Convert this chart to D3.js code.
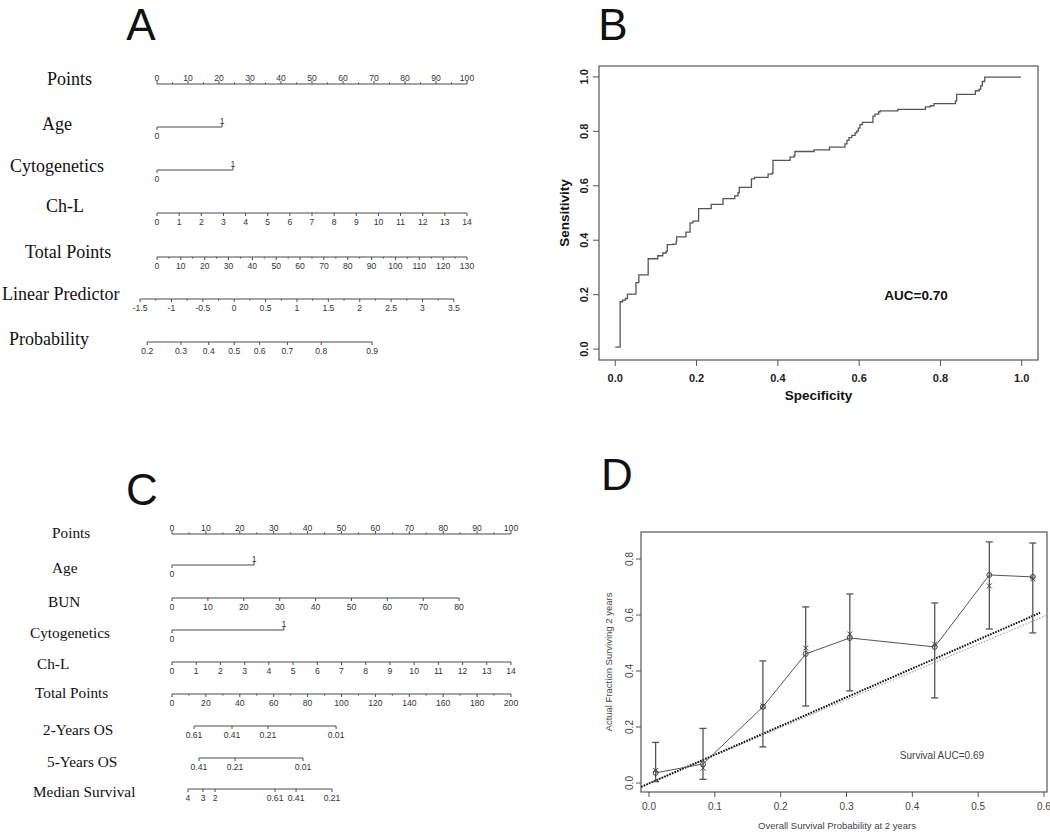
<!DOCTYPE html>
<html><head><meta charset="utf-8">
<script src="https://cdn.jsdelivr.net/npm/d3@7"></script>
<style>body{margin:0;background:#fff}</style>
</head><body>
<script>
// ---------------- DATA ----------------
// Panel A nomogram
const aPointsTicks = [0,10,20,30,40,50,60,70,80,90,100];
const aPointsMinor = [5,15,25,35,45,55,65,75,85,95];
const aAgeVals = [0,1];           const aAgePts = [0,21];
const aCytoVals = [0,1];          const aCytoPts = [0,24.5];
const aChLTicks = [0,1,2,3,4,5,6,7,8,9,10,11,12,13,14];
const aChLPts = [0,100];          // Ch-L 0..14 -> points
const aTotalTicks = [0,10,20,30,40,50,60,70,80,90,100,110,120,130];
const aTotalMinor = [5,15,25,35,45,55,65,75,85,95,105,115,125];
const aLPTicks = [-1.5,-1,-0.5,0,0.5,1,1.5,2,2.5,3,3.5];
const aLPMinor = [-1.25,-0.75,-0.25,0.25,0.75,1.25,1.75,2.25,2.75,3.25];
const aLPTotal = [-7.1,124.5];    // LP -1.5..3.5 on total points
const aProbTicks = [0.2,0.3,0.4,0.5,0.6,0.7,0.8,0.9];

// Panel B ROC
const rocSpec = [0,0.012,0.012,0.018,0.025,0.030,0.047,0.051,0.058,0.058,0.080,0.081,0.100,0.1045,0.113,0.117,0.125,0.128,0.142,0.150,0.151,0.172,0.174,0.183,0.184,0.191,0.205,0.205,0.235,0.236,0.261,0.265,0.290,0.294,0.302,0.305,0.333,0.335,0.343,0.368,0.376,0.386,0.388,0.426,0.430,0.440,0.442,0.487,0.489,0.524,0.527,0.561,0.565,0.570,0.575,0.582,0.590,0.594,0.598,0.602,0.608,0.633,0.634,0.639,0.648,0.652,0.693,0.695,0.760,0.763,0.775,0.784,0.831,0.837,0.840,0.884,0.886,0.895,0.899,0.903,0.909,0.998];
const rocSens = [0.007,0.007,0.174,0.180,0.186,0.202,0.202,0.244,0.244,0.273,0.273,0.332,0.332,0.343,0.343,0.353,0.359,0.384,0.386,0.396,0.412,0.412,0.430,0.430,0.464,0.470,0.470,0.516,0.516,0.532,0.532,0.553,0.553,0.563,0.575,0.594,0.594,0.625,0.631,0.631,0.643,0.647,0.693,0.693,0.705,0.711,0.726,0.726,0.732,0.732,0.742,0.742,0.754,0.767,0.777,0.785,0.794,0.801,0.812,0.825,0.833,0.833,0.856,0.863,0.872,0.875,0.875,0.881,0.881,0.890,0.894,0.902,0.902,0.912,0.936,0.936,0.949,0.954,0.967,0.983,0.999,0.999];
const bTicks = [0,0.2,0.4,0.6,0.8,1.0];

// Panel C nomogram
const cPointsTicks = [0,10,20,30,40,50,60,70,80,90,100];
const cPointsMinor = [5,15,25,35,45,55,65,75,85,95];
const cAgeVals = [0,1];   const cAgePts = [0,24.2];
const cBUNTicks = [0,10,20,30,40,50,60,70,80];  const cBUNPts = [0,84.7];
const cCytoVals = [0,1];  const cCytoPts = [0,33];
const cChLTicks = [0,1,2,3,4,5,6,7,8,9,10,11,12,13,14]; const cChLPts = [0,100];
const cTotalTicks = [0,20,40,60,80,100,120,140,160,180,200];
const cTotalMinor = [10,30,50,70,90,110,130,150,170,190];
const cOS2Labels = ["0.61","0.41","0.21","0.01"]; const cOS2Total = [13,35.4,56.6,96.8];
const cOS5Labels = ["0.41","0.21","0.01"];        const cOS5Total = [15.9,37.2,77.3];
const cMedLabels = ["4","3","2","0.61","0.41","0.21"]; const cMedTotal = [9.4,18.3,25.4,60.8,73.2,94.4];

// Panel D calibration
const dPred = [0.010,0.082,0.173,0.238,0.305,0.434,0.517,0.583];
const dObs  = [0.036,0.068,0.272,0.461,0.518,0.486,0.743,0.736];
const dKM   = [0.045,0.053,0.275,0.482,0.532,0.496,0.704,0.729];
const dLow  = [0.005,0.013,0.129,0.275,0.329,0.304,0.550,0.536];
const dHigh = [0.145,0.195,0.436,0.629,0.675,0.643,0.861,0.857];
const dIdealX = [-0.012,0.594]; const dIdealY = [-0.014,0.608];
const dGrayX  = [-0.012,0.605]; const dGrayY  = [-0.012,0.600];
const dXTicks = [0,0.1,0.2,0.3,0.4,0.5,0.6];
const dYTicks = [0,0.2,0.4,0.6,0.8];

// ---------------- DRAW ----------------
const W=1050,H=832;
const svg=d3.select("body").append("svg").attr("width",W).attr("height",H);
svg.append("rect").attr("width",W).attr("height",H).attr("fill","#fff");
const serif="'Liberation Serif','Times New Roman',serif";
const sans="'Liberation Sans',Arial,sans-serif";
const LC="#4a4a4a";

// panel letters
[["A",141,40],["B",613,40],["C",142,505],["D",617,490]].forEach(([t,x,y])=>{
  svg.append("text").attr("x",x).attr("y",y).attr("text-anchor","middle")
    .attr("font-family",sans).attr("font-size",44).attr("fill","#111").text(t);
});

function fmt(v){return String(v);}
function rowLabel(txt,x,y,size){
  svg.append("text").attr("x",x).attr("y",y).attr("font-family",serif).attr("font-size",size)
    .attr("fill","#111").text(txt);
}
// generic nomogram axis
function nomAxis(y, scale, ticks, opts){
  opts=opts||{};
  const up=opts.up, g=svg.append("g");
  const labels=opts.labels||ticks.map(fmt);
  const xs=ticks.map(scale);
  g.append("line").attr("x1",d3.min(xs)).attr("x2",d3.max(xs)).attr("y1",y).attr("y2",y)
    .attr("stroke",LC).attr("stroke-width",1);
  ticks.forEach((t,i)=>{
    const x=scale(t);
    g.append("line").attr("x1",x).attr("x2",x).attr("y1",y).attr("y2",up?y-3:y+3).attr("stroke",LC);
    g.append("text").attr("x",x).attr("y",up?y-3.5:y+12).attr("text-anchor","middle")
      .attr("font-family",sans).attr("font-size",8.6).attr("fill","#333").text(labels[i]);
  });
  (opts.minor||[]).forEach(t=>{
    const x=scale(t);
    g.append("line").attr("x1",x).attr("x2",x).attr("y1",y).attr("y2",up?y-1.6:y+1.6).attr("stroke",LC);
  });
}
function binAxis(y, scale, vals){
  const g=svg.append("g");
  g.append("line").attr("x1",scale(vals[0])).attr("x2",scale(vals[1])).attr("y1",y).attr("y2",y).attr("stroke",LC);
  vals.forEach((v,i)=>{
    const x=scale(v), up=i===1;
    g.append("line").attr("x1",x).attr("x2",x).attr("y1",y).attr("y2",up?y-3:y+3).attr("stroke",LC);
    g.append("text").attr("x",x).attr("y",up?y-3.5:y+12).attr("text-anchor","middle")
      .attr("font-family",sans).attr("font-size",8.6).attr("fill","#333").text(fmt(v));
  });
}

// ---- Panel A ----
const aPts=d3.scaleLinear().domain([0,100]).range([157,467]);
const aTot=d3.scaleLinear().domain([0,130]).range([157,467]);
rowLabel("Points",47,85,18);           nomAxis(84,aPts,aPointsTicks,{up:true,minor:aPointsMinor});
rowLabel("Age",42,130,18);             binAxis(127,d3.scaleLinear().domain(aAgeVals).range(aAgePts.map(aPts)),aAgeVals);
rowLabel("Cytogenetics",10,172,18);    binAxis(170,d3.scaleLinear().domain(aCytoVals).range(aCytoPts.map(aPts)),aCytoVals);
rowLabel("Ch-L",46,212,18);            nomAxis(213,d3.scaleLinear().domain([0,14]).range(aChLPts.map(aPts)),aChLTicks);
rowLabel("Total Points",25,258,18);    nomAxis(257,aTot,aTotalTicks,{minor:aTotalMinor});
const aLP=d3.scaleLinear().domain([-1.5,3.5]).range(aLPTotal.map(aTot));
rowLabel("Linear Predictor",2,300,18); nomAxis(299,aLP,aLPTicks,{minor:aLPMinor});
const logit=p=>Math.log(p/(1-p));
rowLabel("Probability",9,345,18);      nomAxis(342,p=>aLP(logit(p)),aProbTicks);

// ---- Panel C ----
const cPts=d3.scaleLinear().domain([0,100]).range([172,511]);
const cTot=d3.scaleLinear().domain([0,200]).range([172,511]);
const CF=15.3;
rowLabel("Points",52,538,CF);          nomAxis(534,cPts,cPointsTicks,{up:true,minor:cPointsMinor});
rowLabel("Age",52,573,CF);             binAxis(565,d3.scaleLinear().domain(cAgeVals).range(cAgePts.map(cPts)),cAgeVals);
rowLabel("BUN",48,607,CF);             nomAxis(598,d3.scaleLinear().domain([0,80]).range(cBUNPts.map(cPts)),cBUNTicks);
rowLabel("Cytogenetics",30,638,CF);    binAxis(630,d3.scaleLinear().domain(cCytoVals).range(cCytoPts.map(cPts)),cCytoVals);
rowLabel("Ch-L",37,669,CF);            nomAxis(662,d3.scaleLinear().domain([0,14]).range(cChLPts.map(cPts)),cChLTicks);
rowLabel("Total Points",35,698,CF);    nomAxis(694,cTot,cTotalTicks,{minor:cTotalMinor});
rowLabel("2-Years OS",43,735,CF);      nomAxis(726,cTot,cOS2Total,{labels:cOS2Labels});
rowLabel("5-Years OS",47,767,CF);      nomAxis(758,cTot,cOS5Total,{labels:cOS5Labels});
rowLabel("Median Survival",33,797,CF); nomAxis(789,cTot,cMedTotal,{labels:cMedLabels});

// ---- Panel B ROC ----
{
  const L=599,R=1038,T=66,B=360;
  const x=d3.scaleLinear().domain([-0.04,1.04]).range([L,R]);
  const y=d3.scaleLinear().domain([-0.04,1.04]).range([B,T]);
  const g=svg.append("g");
  g.append("rect").attr("x",L).attr("y",T).attr("width",R-L).attr("height",B-T)
    .attr("fill","none").attr("stroke","#555").attr("stroke-width",1.2);
  const line=d3.line().x(d=>x(d[0])).y(d=>y(d[1])).curve(d3.curveStepAfter);
  g.append("path").attr("d",line(rocSpec.map((s,i)=>[s,rocSens[i]])))
    .attr("fill","none").attr("stroke","#555").attr("stroke-width",1.3);
  bTicks.forEach(t=>{
    g.append("line").attr("x1",x(t)).attr("x2",x(t)).attr("y1",B).attr("y2",B+6).attr("stroke","#555");
    g.append("text").attr("x",x(t)).attr("y",B+22).attr("text-anchor","middle")
      .attr("font-family",sans).attr("font-size",11).attr("font-weight","bold").attr("fill","#222").text(t.toFixed(1));
    g.append("line").attr("x1",L).attr("x2",L-6).attr("y1",y(t)).attr("y2",y(t)).attr("stroke","#555");
    g.append("text").attr("transform",`translate(${L-11},${y(t)}) rotate(-90)`).attr("text-anchor","middle")
      .attr("font-family",sans).attr("font-size",11).attr("font-weight","bold").attr("fill","#222").text(t.toFixed(1));
  });
  g.append("text").attr("x",(L+R)/2).attr("y",400).attr("text-anchor","middle")
    .attr("font-family",sans).attr("font-size",13.5).attr("font-weight","bold").attr("fill","#111").text("Specificity");
  g.append("text").attr("transform",`translate(569,${(T+B)/2}) rotate(-90)`).attr("text-anchor","middle")
    .attr("font-family",sans).attr("font-size",13.5).attr("font-weight","bold").attr("fill","#111").text("Sensitivity");
  g.append("text").attr("x",x(0.74)).attr("y",y(0.18)).attr("text-anchor","middle")
    .attr("font-family",sans).attr("font-size",13.5).attr("font-weight","bold").attr("fill","#111").text("AUC=0.70");
}

// ---- Panel D calibration ----
{
  const L=641,R=1047,T=532,B=792;
  const x=d3.scaleLinear().domain([-0.0122,0.6046]).range([L,R]);
  const y=d3.scaleLinear().domain([-0.0321,0.8964]).range([B,T]);
  const g=svg.append("g");
  g.append("rect").attr("x",L).attr("y",T).attr("width",R-L).attr("height",B-T)
    .attr("fill","none").attr("stroke","#555").attr("stroke-width",1.2);
  const ln=d3.line().x(d=>x(d[0])).y(d=>y(d[1]));
  g.append("path").attr("d",ln(dGrayX.map((v,i)=>[v,dGrayY[i]])))
    .attr("fill","none").attr("stroke","#aaa").attr("stroke-width",1.2).attr("stroke-dasharray","1.5,1.5");
  g.append("path").attr("d",ln(dIdealX.map((v,i)=>[v,dIdealY[i]])))
    .attr("fill","none").attr("stroke","#111").attr("stroke-width",2).attr("stroke-dasharray","1.6,1.2");
  g.append("path").attr("d",ln(dPred.map((v,i)=>[v,dObs[i]])))
    .attr("fill","none").attr("stroke","#555").attr("stroke-width",1);
  dPred.forEach((p,i)=>{
    const xp=x(p);
    g.append("line").attr("x1",xp).attr("x2",xp).attr("y1",y(dLow[i])).attr("y2",y(dHigh[i])).attr("stroke","#555").attr("stroke-width",1.3);
    [dLow[i],dHigh[i]].forEach(v=>g.append("line").attr("x1",xp-3.5).attr("x2",xp+3.5).attr("y1",y(v)).attr("y2",y(v)).attr("stroke","#555").attr("stroke-width",1.3));
    g.append("circle").attr("cx",xp).attr("cy",y(dObs[i])).attr("r",2.5).attr("fill","none").attr("stroke","#444");
    const ky=y(dKM[i]);
    g.append("path").attr("d",`M${xp-2.5},${ky-2.5}L${xp+2.5},${ky+2.5}M${xp-2.5},${ky+2.5}L${xp+2.5},${ky-2.5}`)
      .attr("stroke","#444").attr("fill","none");
  });
  dXTicks.forEach(t=>{
    g.append("line").attr("x1",x(t)).attr("x2",x(t)).attr("y1",B).attr("y2",B+5).attr("stroke","#555");
    g.append("text").attr("x",x(t)).attr("y",B+18).attr("text-anchor","middle")
      .attr("font-family",sans).attr("font-size",10).attr("fill","#444").text(t.toFixed(1));
  });
  dYTicks.forEach(t=>{
    g.append("line").attr("x1",L).attr("x2",L-5).attr("y1",y(t)).attr("y2",y(t)).attr("stroke","#555");
    g.append("text").attr("transform",`translate(${L-8},${y(t)}) rotate(-90)`).attr("text-anchor","middle")
      .attr("font-family",sans).attr("font-size",10).attr("fill","#444").text(t.toFixed(1));
  });
  g.append("text").attr("x",(L+R)/2-7).attr("y",829).attr("text-anchor","middle")
    .attr("font-family",sans).attr("font-size",9.5).attr("fill","#444").text("Overall Survival Probability at 2 years");
  g.append("text").attr("transform",`translate(612,${(T+B)/2}) rotate(-90)`).attr("text-anchor","middle")
    .attr("font-family",sans).attr("font-size",9.5).attr("fill","#444").text("Actual Fraction Surviving 2 years");
  g.append("text").attr("x",x(0.445)).attr("y",y(0.085)).attr("text-anchor","middle")
    .attr("font-family",sans).attr("font-size",10).attr("fill","#444").text("Survival AUC=0.69");
}
</script>
</body></html>
